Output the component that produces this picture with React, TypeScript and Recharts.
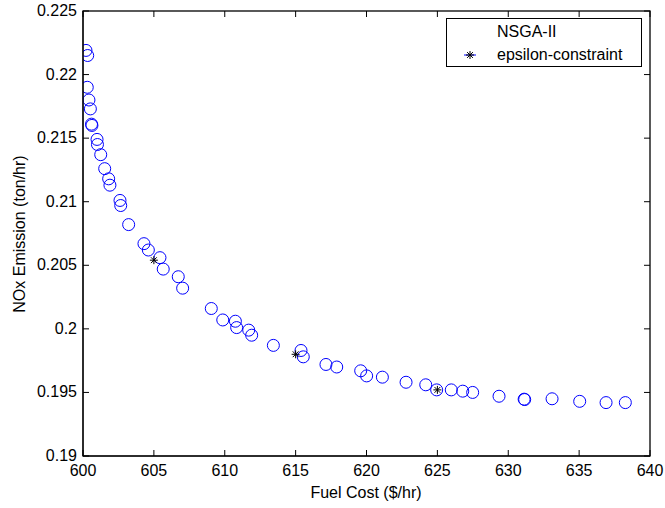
import React from 'react';
import { ScatterChart, Scatter, XAxis, YAxis } from 'recharts';

// NSGA-II pareto front
const nsgaCost = [
  600.21, 600.33, 600.3, 600.42, 600.52, 600.6, 600.63, 600.99, 601.02, 601.25, 601.53, 601.81,
  601.9, 602.61, 602.66, 603.22, 604.3, 604.61, 605.43, 605.66, 606.72, 607.03, 609.05, 609.86,
  610.75, 610.84, 611.69, 611.9, 613.43, 615.38, 615.54, 617.14, 617.9, 619.59, 620.01, 621.12,
  622.79, 624.18, 624.95, 625.98, 626.79, 627.49, 629.35, 631.12, 631.16, 633.09, 635.04, 636.9,
  638.26,
];
const nsgaNox = [
  0.2219, 0.2215, 0.219, 0.218, 0.2173, 0.2161, 0.216, 0.2149, 0.2145, 0.2137, 0.2126, 0.2118,
  0.2113, 0.2101, 0.2097, 0.2082, 0.2067, 0.2062, 0.2056, 0.2047, 0.2041, 0.2032, 0.2016, 0.2007,
  0.2006, 0.2001, 0.1999, 0.1995, 0.1987, 0.1983, 0.1978, 0.1972, 0.197, 0.1967, 0.1963, 0.1962,
  0.1958, 0.1956, 0.1952, 0.1952, 0.1951, 0.195, 0.1947, 0.19447, 0.19444, 0.1945, 0.1943, 0.1942,
  0.1942,
];

const epsCost = [605, 615, 625];
const epsNox = [0.2054, 0.198, 0.1952];

const xTicks = [600, 605, 610, 615, 620, 625, 630, 635, 640];
const yTicks = [0.19, 0.195, 0.2, 0.205, 0.21, 0.215, 0.22, 0.225];

const nsgaData = nsgaCost.map((c, i) => ({ cost: c, nox: nsgaNox[i] }));
const epsData = epsCost.map((c, i) => ({ cost: c, nox: epsNox[i] }));

const W = 665;
const H = 508;
// plot box, MATLAB style
const PLOT = { left: 83, top: 11, width: 567, height: 445 };

const FONT = 'Arial, "Liberation Sans", Helvetica, sans-serif';
const TICK = 6;

const fmtY = (v: number) => String(Number(v.toFixed(3)));

const Circle = (p: any) => (
  <circle cx={p.cx} cy={p.cy} r={6} fill="none" stroke="#0000FF" strokeWidth={1} />
);

const Star = (p: any) => {
  const s = 4;
  const d = 2.9;
  return (
    <g stroke="#000" strokeWidth={1}>
      <line x1={p.cx - s} y1={p.cy} x2={p.cx + s} y2={p.cy} />
      <line x1={p.cx} y1={p.cy - s} x2={p.cx} y2={p.cy + s} />
      <line x1={p.cx - d} y1={p.cy - d} x2={p.cx + d} y2={p.cy + d} />
      <line x1={p.cx - d} y1={p.cy + d} x2={p.cx + d} y2={p.cy - d} />
    </g>
  );
};

// inward ticks on bottom and (mirrored) top
const BottomTick = ({ x, y, payload }: any) => (
  <g>
    <line x1={x} y1={y} x2={x} y2={y - TICK} stroke="#000" />
    <line x1={x} y1={y - PLOT.height} x2={x} y2={y - PLOT.height + TICK} stroke="#000" />
    <text x={x} y={y + 20} textAnchor="middle" fontSize={16} fontFamily={FONT} fill="#000">
      {payload.value}
    </text>
  </g>
);

// inward ticks on left and (mirrored) right
const LeftTick = ({ x, y, payload }: any) => (
  <g>
    <line x1={x} y1={y} x2={x + TICK} y2={y} stroke="#000" />
    <line x1={x + PLOT.width} y1={y} x2={x + PLOT.width - TICK} y2={y} stroke="#000" />
    <text x={x - 6} y={y + 5} textAnchor="end" fontSize={16} fontFamily={FONT} fill="#000">
      {fmtY(payload.value)}
    </text>
  </g>
);

const LegendBox = () => (
  <div
    style={{
      position: 'absolute',
      left: 446,
      top: 18,
      width: 194,
      height: 47,
      border: '1px solid #000',
      background: '#fff',
      fontFamily: FONT,
      fontSize: 16,
      lineHeight: '18px',
    }}
  >
    <div style={{ position: 'absolute', left: 50, top: 4 }}>NSGA-II</div>
    <div style={{ position: 'absolute', left: 50, top: 27 }}>epsilon-constraint</div>
    <svg width={20} height={14} style={{ position: 'absolute', left: 13, top: 29 }}>
      <line x1={4} y1={7} x2={16} y2={7} stroke="#0000FF" />
      <Star cx={10} cy={7} />
    </svg>
  </div>
);

export default function App() {
  return (
    <div style={{ position: 'relative', width: W, height: H }}>
      <style>{'body{margin:0;background:#fff}'}</style>
      <ScatterChart
        width={W}
        height={H}
        margin={{ top: PLOT.top, right: W - PLOT.left - PLOT.width, bottom: 0, left: 0 }}
      >
        <XAxis
          dataKey="cost"
          type="number"
          domain={[600, 640]}
          ticks={xTicks}
          height={H - PLOT.top - PLOT.height}
          tickSize={0}
          tickMargin={0}
          tickLine={false}
          axisLine={{ stroke: '#000' }}
          tick={BottomTick}
          interval={0}
          allowDataOverflow
          label={{
            content: () => (
              <text x={366} y={498} textAnchor="middle" fontSize={16} fontFamily={FONT} fill="#000">
                Fuel Cost ($/hr)
              </text>
            ),
          }}
        />
        <YAxis
          dataKey="nox"
          type="number"
          domain={[0.19, 0.225]}
          ticks={yTicks}
          width={PLOT.left}
          tickSize={0}
          tickMargin={0}
          tickLine={false}
          axisLine={{ stroke: '#000' }}
          tick={LeftTick}
          interval={0}
          allowDataOverflow
          label={{
            content: () => (
              <text
                transform="translate(25,234) rotate(-90)"
                textAnchor="middle"
                fontSize={16}
                fontFamily={FONT}
                fill="#000"
              >
                NOx Emission (ton/hr)
              </text>
            ),
          }}
        />
        <Scatter name="NSGA-II" data={nsgaData} shape={Circle} isAnimationActive={false} />
        <Scatter name="epsilon-constraint" data={epsData} shape={Star} isAnimationActive={false} />
      </ScatterChart>
      {/* axes box: top and right edges */}
      <svg
        width={W}
        height={H}
        style={{ position: 'absolute', left: 0, top: 0, pointerEvents: 'none' }}
      >
        <rect
          x={PLOT.left}
          y={PLOT.top}
          width={PLOT.width}
          height={PLOT.height}
          fill="none"
          stroke="#000"
          strokeWidth={1.3}
        />
      </svg>
      <LegendBox />
    </div>
  );
}
